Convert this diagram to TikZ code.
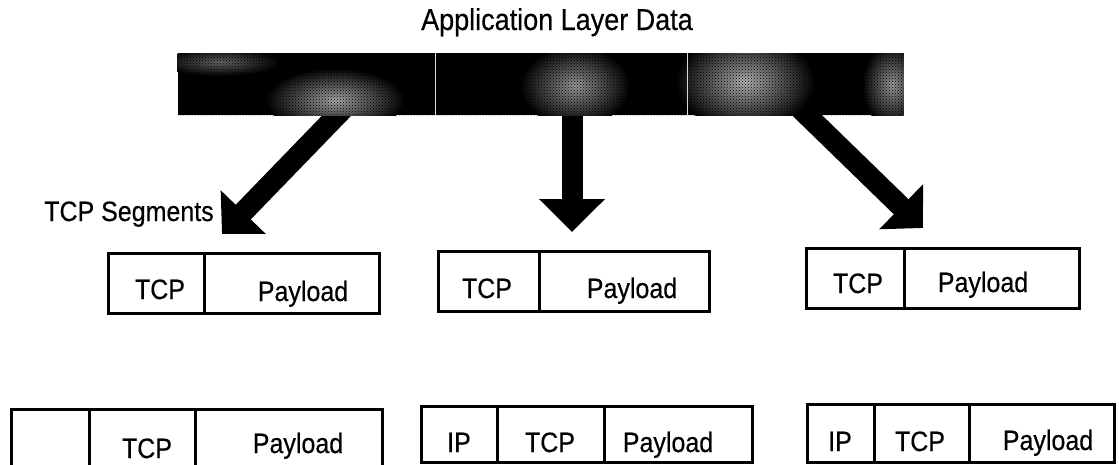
\documentclass[tikz,border=0pt]{standalone}
\usepackage{fontspec}
\usepackage{graphicx}
\setmainfont{Liberation Sans}
\newfontfamily\lblfont{Liberation Sans}[FakeBold=0.4]
\usetikzlibrary{arrows.meta,calc,backgrounds,patterns}
\newcommand\tallword[1]{\scalebox{1}[1.12]{#1}}
\begin{document}
\begin{tikzpicture}[x=1pt,y=-1pt,
  cell/.style={draw=black, line width=2.6pt, inner sep=0pt, anchor=north west},
  lbl/.style={font=\lblfont\fontsize{25}{30}\selectfont, anchor=base, inner sep=0pt, text=black},
  ttl/.style={font=\lblfont\fontsize{27}{32}\selectfont, anchor=base, inner sep=0pt, text=black},
  fatarrow/.style={draw=black, line width=21pt, -{Triangle[width=61pt,length=30.5pt]}},
  fatarrowv/.style={draw=black, line width=21pt, -{Triangle[width=64pt,length=33pt]}},
  blob/.style={outer color=black}
]
\useasboundingbox (0,0) rectangle (1119,464);

% title and the application data bar
\node[ttl] (title) at (557,30) {\tallword{Application Layer Data}};
\node[draw=black, fill=black, line width=1pt, minimum width=725pt, minimum height=61pt, inner sep=0pt] (appdata) at (540.5,84) {};
\begin{scope}
  \clip (appdata.south west) rectangle (appdata.north east);
  \shade[blob, inner color=black!60] (220,62) ellipse [x radius=60pt, y radius=14pt];
  \shade[blob, inner color=black!35] (335,100) ellipse [x radius=70pt, y radius=32pt];
  \shade[blob, inner color=black!40] (575,86) ellipse [x radius=55pt, y radius=40pt];
  \shade[blob, inner color=black!30] (745,82) ellipse [x radius=70pt, y radius=48pt];
  \shade[blob, inner color=black!40] (892,85) ellipse [x radius=30pt, y radius=42pt];
  % halftone grain over the shaded patches
  \fill[pattern=crosshatch dots, pattern color=black] (appdata.south west) rectangle (appdata.north east);
\end{scope}
% segment boundaries inside the bar
\draw[white!85!black, line width=1.5pt] ($(appdata.north west)+(258,0)$) -- ($(appdata.south west)+(258,0)$);
\draw[white!85!black, line width=1.5pt] ($(appdata.north west)+(510,0)$) -- ($(appdata.south west)+(510,0)$);

% split arrows
\coordinate (srcL) at ($(appdata.south)+(-195.5,-8)$);
\coordinate (srcM) at ($(appdata.south)+(31.5,-10)$);
\coordinate (srcR) at ($(appdata.south)+(256,-10)$);
\coordinate (tipL) at (222,234);
\coordinate (tipM) at (572,232);
\coordinate (tipR) at (923,228);
\begin{scope}[on background layer]
  \draw[fatarrow] (srcL) -- (tipL);
  \draw[fatarrowv] (srcM) -- (tipM);
  \draw[fatarrow] (srcR) -- (tipR);
\end{scope}

\node[lbl] (seglabel) at (129,221) {\tallword{TCP Segments}};

% TCP segments
\node[cell, minimum width=96pt, minimum height=60pt] (s1h) at (107,252) {};
\node[cell, minimum width=175pt, minimum height=60pt] (s1p) at (203,252) {};
\node[cell, minimum width=101pt, minimum height=60pt] (s2h) at (437,250) {};
\node[cell, minimum width=170pt, minimum height=60pt] (s2p) at (538,250) {};
\node[cell, minimum width=98pt, minimum height=60pt] (s3h) at (805,247) {};
\node[cell, minimum width=175pt, minimum height=60pt] (s3p) at (903,247) {};

\node[lbl] (s1ht) at (160,299) {\tallword{TCP}};
\node[lbl] (s1pt) at (303,301) {\tallword{Payload}};
\node[lbl] (s2ht) at (487,298) {\tallword{TCP}};
\node[lbl] (s2pt) at (632,298) {\tallword{Payload}};
\node[lbl] (s3ht) at (858,293) {\tallword{TCP}};
\node[lbl] (s3pt) at (983,292) {\tallword{Payload}};

% IP packets
\node[cell, minimum width=78pt, minimum height=64pt] (p1a) at (10,408) {};
\node[cell, minimum width=106pt, minimum height=64pt] (p1t) at (88,408) {};
\node[cell, minimum width=187pt, minimum height=64pt] (p1p) at (194,408) {};
\node[cell, minimum width=76pt, minimum height=56pt] (p2i) at (420,405) {};
\node[cell, minimum width=107pt, minimum height=56pt] (p2t) at (496,405) {};
\node[cell, minimum width=148pt, minimum height=56pt] (p2p) at (603,405) {};
\node[cell, minimum width=67pt, minimum height=58pt] (p3i) at (806,403) {};
\node[cell, minimum width=95pt, minimum height=58pt] (p3t) at (873,403) {};
\node[cell, minimum width=145pt, minimum height=58pt] (p3p) at (968,403) {};

\node[lbl] (p1tt) at (147,458) {\tallword{TCP}};
\node[lbl] (p1pt) at (298,453) {\tallword{Payload}};
\node[lbl] (p2it) at (459,452) {\tallword{IP}};
\node[lbl] (p2tt) at (550,452) {\tallword{TCP}};
\node[lbl] (p2pt) at (668,452) {\tallword{Payload}};
\node[lbl] (p3it) at (840,451) {\tallword{IP}};
\node[lbl] (p3tt) at (920,451) {\tallword{TCP}};
\node[lbl] (p3pt) at (1048,450) {\tallword{Payload}};
\end{tikzpicture}
\end{document}
